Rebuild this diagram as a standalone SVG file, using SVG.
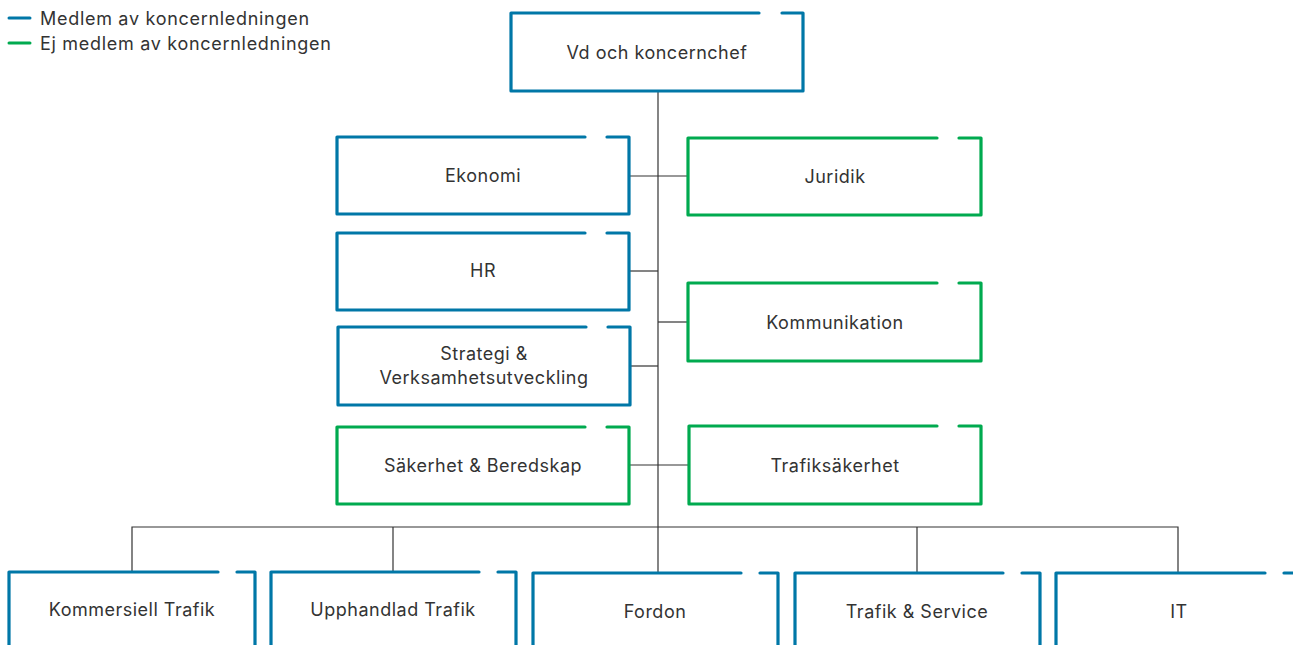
<svg xmlns="http://www.w3.org/2000/svg" width="1293" height="645" viewBox="0 0 1293 645">
  <style>
    .box { fill: none; stroke-width: 3.2; stroke-linecap: round; stroke-linejoin: round; }
    .blue { stroke: #0077a7; }
    .green { stroke: #00aa4f; }
    .lbl { font-family: Inter, "Liberation Sans", sans-serif; font-size: 18px; letter-spacing: 0.5px; fill: #333; text-anchor: middle; }
    .leg { font-family: Inter, "Liberation Sans", sans-serif; font-size: 18px; letter-spacing: 0.7px; fill: #333; }
    .conn { fill: none; stroke: #333; stroke-width: 1.2; }
  </style>
  <rect width="1293" height="645" fill="#fff"/>

  <!-- legend -->
  <g id="legend">
    <line x1="9" y1="18" x2="30" y2="18" stroke="#0077a7" stroke-width="3" stroke-linecap="round"/>
    <text class="leg" x="40" y="25">Medlem av koncernledningen</text>
    <line x1="9" y1="43" x2="30" y2="43" stroke="#00aa4f" stroke-width="3" stroke-linecap="round"/>
    <text class="leg" x="40" y="50">Ej medlem av koncernledningen</text>
  </g>

  <!-- connectors -->
  <g id="connectors">
    <path class="conn" d="M658 91 V572"/>
    <path class="conn" d="M629 176 H688"/>
    <path class="conn" d="M629 271 H658"/>
    <path class="conn" d="M658 322 H688"/>
    <path class="conn" d="M630 366 H658"/>
    <path class="conn" d="M629 465 H688"/>
    <path class="conn" d="M132 572 V527 H1178 V572"/>
    <path class="conn" d="M393 527 V572"/>
    <path class="conn" d="M917 527 V572"/>
  </g>

  <!-- top level -->
  <g id="vd">
    <path class="box blue" d="M782 13 H803 V91 H511 V13 H759"/>
    <text class="lbl" x="657" y="59">Vd och koncernchef</text>
  </g>

  <!-- staff functions, left column -->
  <g id="ekonomi">
    <path class="box blue" d="M607 137 H629 V214 H337 V137 H585"/>
    <text class="lbl" x="483" y="182">Ekonomi</text>
  </g>
  <g id="hr">
    <path class="box blue" d="M607 233 H629 V310 H337 V233 H585"/>
    <text class="lbl" x="483" y="277">HR</text>
  </g>
  <g id="strategi">
    <path class="box blue" d="M608 327 H630 V405 H338 V327 H586"/>
    <text class="lbl" x="484" y="360">Strategi &amp;</text>
    <text class="lbl" x="484" y="384">Verksamhetsutveckling</text>
  </g>
  <g id="sakerhet">
    <path class="box green" d="M607 427 H629 V504 H337 V427 H585"/>
    <text class="lbl" x="483" y="472">Säkerhet &amp; Beredskap</text>
  </g>

  <!-- staff functions, right column -->
  <g id="juridik">
    <path class="box green" d="M959 138 H981 V215 H688 V138 H937"/>
    <text class="lbl" x="835" y="183">Juridik</text>
  </g>
  <g id="kommunikation">
    <path class="box green" d="M959 283 H981 V361 H688 V283 H937"/>
    <text class="lbl" x="835" y="329">Kommunikation</text>
  </g>
  <g id="trafiksakerhet">
    <path class="box green" d="M959 426 H981 V504 H689 V426 H937"/>
    <text class="lbl" x="835" y="472">Trafiksäkerhet</text>
  </g>

  <!-- business units -->
  <g id="kommersiell">
    <path class="box blue" d="M237 572 H255 V660 M9 660 V572 H218"/>
    <text class="lbl" x="132" y="616">Kommersiell Trafik</text>
  </g>
  <g id="upphandlad">
    <path class="box blue" d="M498 572 H516 V660 M271 660 V572 H479"/>
    <text class="lbl" x="393" y="616">Upphandlad Trafik</text>
  </g>
  <g id="fordon">
    <path class="box blue" d="M760 573 H778 V660 M533 660 V573 H741"/>
    <text class="lbl" x="655" y="618">Fordon</text>
  </g>
  <g id="trafikservice">
    <path class="box blue" d="M1022 573 H1040 V660 M795 660 V573 H1003"/>
    <text class="lbl" x="917" y="618">Trafik &amp; Service</text>
  </g>
  <g id="it">
    <path class="box blue" d="M1284 573 H1302 V660 M1056 660 V573 H1265"/>
    <text class="lbl" x="1179" y="618">IT</text>
  </g>
</svg>
